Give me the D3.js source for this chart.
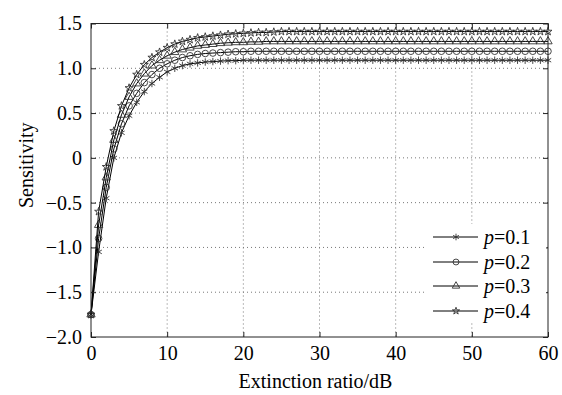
<!DOCTYPE html>
<html>
<head>
<meta charset="utf-8">
<script src="https://cdn.jsdelivr.net/npm/d3@7"></script>
<style>
  html, body { margin: 0; padding: 0; background: #fff; }
  svg { display: block; }
  text { font-family: "Liberation Serif", "Times New Roman", serif; fill: #000; }
</style>
</head>
<body>
<svg id="chart" width="562" height="395"></svg>
<script>
// ---- data ----
const extinctionDB = [0,1,2,3,4,5,6,7,8,9,10,11,12,13,14,15,16,17,18,19,20,21,22,23,24,25,26,27,28,29,30,31,32,33,34,35,36,37,38,39,40,41,42,43,44,45,46,47,48,49,50,51,52,53,54,55,56,57,58,59,60];

const seriesNames = ["p=0.1", "p=0.2", "p=0.3", "p=0.4"];

const sensP01 = [-1.75,-1.05,-0.45,0.00,0.28,0.47,0.62,0.74,0.83,0.90,0.96,1.00,1.03,1.05,1.06,1.07,1.075,1.08,1.085,1.085,1.09,1.09,1.09,1.09,1.09,1.09,1.09,1.09,1.09,1.09,1.09,1.09,1.09,1.09,1.09,1.09,1.09,1.09,1.09,1.09,1.09,1.09,1.09,1.09,1.09,1.09,1.09,1.09,1.09,1.09,1.09,1.09,1.09,1.09,1.09,1.09,1.09,1.09,1.09,1.09,1.09];
const sensP02 = [-1.75,-0.90,-0.33,0.10,0.38,0.58,0.72,0.84,0.93,1.00,1.05,1.09,1.12,1.14,1.155,1.165,1.17,1.175,1.18,1.185,1.185,1.19,1.19,1.19,1.19,1.19,1.19,1.19,1.19,1.19,1.19,1.19,1.19,1.19,1.19,1.19,1.19,1.19,1.19,1.19,1.19,1.19,1.19,1.19,1.19,1.19,1.19,1.19,1.19,1.19,1.19,1.19,1.19,1.19,1.19,1.19,1.19,1.19,1.19,1.19,1.19];
const sensP03 = [-1.75,-0.75,-0.22,0.20,0.48,0.68,0.83,0.94,1.03,1.09,1.14,1.18,1.21,1.23,1.25,1.26,1.27,1.28,1.285,1.29,1.29,1.295,1.295,1.30,1.30,1.30,1.30,1.30,1.30,1.30,1.30,1.30,1.30,1.30,1.30,1.30,1.30,1.30,1.30,1.30,1.30,1.30,1.30,1.30,1.30,1.30,1.30,1.30,1.30,1.30,1.30,1.30,1.30,1.30,1.30,1.30,1.30,1.30,1.30,1.30,1.30];
const sensP04 = [-1.75,-0.60,-0.10,0.30,0.58,0.78,0.93,1.04,1.12,1.18,1.23,1.27,1.30,1.32,1.34,1.35,1.36,1.37,1.38,1.385,1.39,1.395,1.40,1.40,1.405,1.41,1.41,1.41,1.41,1.41,1.41,1.41,1.41,1.41,1.41,1.41,1.41,1.41,1.41,1.41,1.41,1.41,1.41,1.41,1.41,1.41,1.41,1.41,1.41,1.41,1.41,1.41,1.41,1.41,1.41,1.41,1.41,1.41,1.41,1.41,1.41];

const xTicks = [0,10,20,30,40,50,60];
const yTicks = [-2.0,-1.5,-1.0,-0.5,0,0.5,1.0,1.5];
const yTickLabels = ["\u22122.0","\u22121.5","\u22121.0","\u22120.5","0","0.5","1.0","1.5"];

const xLabel = "Extinction ratio/dB";
const yLabel = "Sensitivity";

(function () {
const FONT = "'Liberation Serif', 'Times New Roman', serif";
// ---- layout ----
const svg = d3.select("#chart");
const pL = 91, pR = 548, pT = 23.5, pB = 337;

const x = d3.scaleLinear().domain([0, 60]).range([pL, pR]);
const y = d3.scaleLinear().domain([-2, 1.5]).range([pB, pT]);

const allSeries = [sensP01, sensP02, sensP03, sensP04];
const symbols = [
  {type: d3.symbolAsterisk, size: 38},
  {type: d3.symbolCircle, size: 34},
  {type: d3.symbolTriangle, size: 30},
  {type: d3.symbolStar, size: 20}
];

// grid
const grid = svg.append("g");
grid.selectAll("line.vx").data(xTicks.slice(1, -1)).join("line")
  .attr("x1", d => x(d)).attr("x2", d => x(d))
  .attr("y1", pT).attr("y2", pB)
  .attr("stroke", "#777").attr("stroke-width", 1)
  .attr("stroke-dasharray", "1,3");
grid.selectAll("line.hy").data(yTicks.slice(1, -1)).join("line")
  .attr("x1", pL).attr("x2", pR)
  .attr("y1", d => y(d)).attr("y2", d => y(d))
  .attr("stroke", "#777").attr("stroke-width", 1)
  .attr("stroke-dasharray", "1,3");

// series
const line = d3.line().x((d, i) => x(extinctionDB[i])).y(d => y(d));
const plot = svg.append("g");
allSeries.forEach((vals, si) => {
  plot.append("path").datum(vals)
    .attr("d", line)
    .attr("fill", "none")
    .attr("stroke", "#000")
    .attr("stroke-width", 1);
  const sym = d3.symbol().type(symbols[si].type).size(symbols[si].size);
  plot.selectAll(null).data(vals).join("path")
    .attr("transform", (d, i) => `translate(${x(extinctionDB[i])},${y(d)})`)
    .attr("d", sym)
    .attr("fill", "none")
    .attr("stroke", "#333")
    .attr("stroke-width", 0.9);
});

// frame
svg.append("rect")
  .attr("x", pL).attr("y", pT)
  .attr("width", pR - pL).attr("height", pB - pT)
  .attr("fill", "none").attr("stroke", "#222").attr("stroke-width", 1);

// axes (ticks inward on all four sides)
const axB = d3.axisBottom(x).tickValues(xTicks).tickSize(-5).tickPadding(9).tickFormat(d3.format("d"));
const axT = d3.axisTop(x).tickValues(xTicks).tickSize(-5).tickFormat("");
const axL = d3.axisLeft(y).tickValues(yTicks).tickSize(-5).tickPadding(9)
  .tickFormat((d, i) => yTickLabels[i]);
const axR = d3.axisRight(y).tickValues(yTicks).tickSize(-5).tickFormat("");

function styleAxis(g) {
  g.attr("font-family", FONT).attr("font-size", 20);
  g.select(".domain").remove();
  g.selectAll(".tick line").attr("stroke", "#222");
  g.selectAll("text").attr("font-size", 20).attr("font-family", FONT).attr("fill", "#000");
}
svg.append("g").attr("transform", `translate(0,${pB})`).call(axB).call(styleAxis);
svg.append("g").attr("transform", `translate(0,${pT})`).call(axT).call(styleAxis);
svg.append("g").attr("transform", `translate(${pL},0)`).call(axL).call(styleAxis);
svg.append("g").attr("transform", `translate(${pR},0)`).call(axR).call(styleAxis);

// axis labels
svg.append("text")
  .attr("x", (pL + pR) / 2 - 4).attr("y", 388)
  .attr("text-anchor", "middle").attr("font-size", 20).attr("font-family", FONT)
  .text(xLabel);
svg.append("text")
  .attr("transform", `translate(33,${(pT + pB) / 2 - 15}) rotate(-90)`)
  .attr("text-anchor", "middle").attr("font-size", 20).attr("font-family", FONT)
  .text(yLabel);

// legend
const lg = svg.append("g");
lg.append("rect").attr("x", 425).attr("y", 224).attr("width", 121).attr("height", 98)
  .attr("fill", "#fff");
const rowY = [237, 262, 286, 311];
seriesNames.forEach((name, i) => {
  const yy = rowY[i];
  lg.append("line").attr("x1", 433).attr("x2", 478).attr("y1", yy).attr("y2", yy)
    .attr("stroke", "#000").attr("stroke-width", 1);
  lg.append("path")
    .attr("transform", `translate(456,${yy})`)
    .attr("d", d3.symbol().type(symbols[i].type).size(symbols[i].size * 0.8))
    .attr("fill", "none").attr("stroke", "#333").attr("stroke-width", 0.9);
  const t = lg.append("text").attr("x", 484).attr("y", yy + 7).attr("font-size", 20).attr("font-family", FONT);
  t.append("tspan").attr("font-style", "italic").text(name.slice(0, 1));
  t.append("tspan").text(name.slice(1));
});
})();
</script>
</body>
</html>
